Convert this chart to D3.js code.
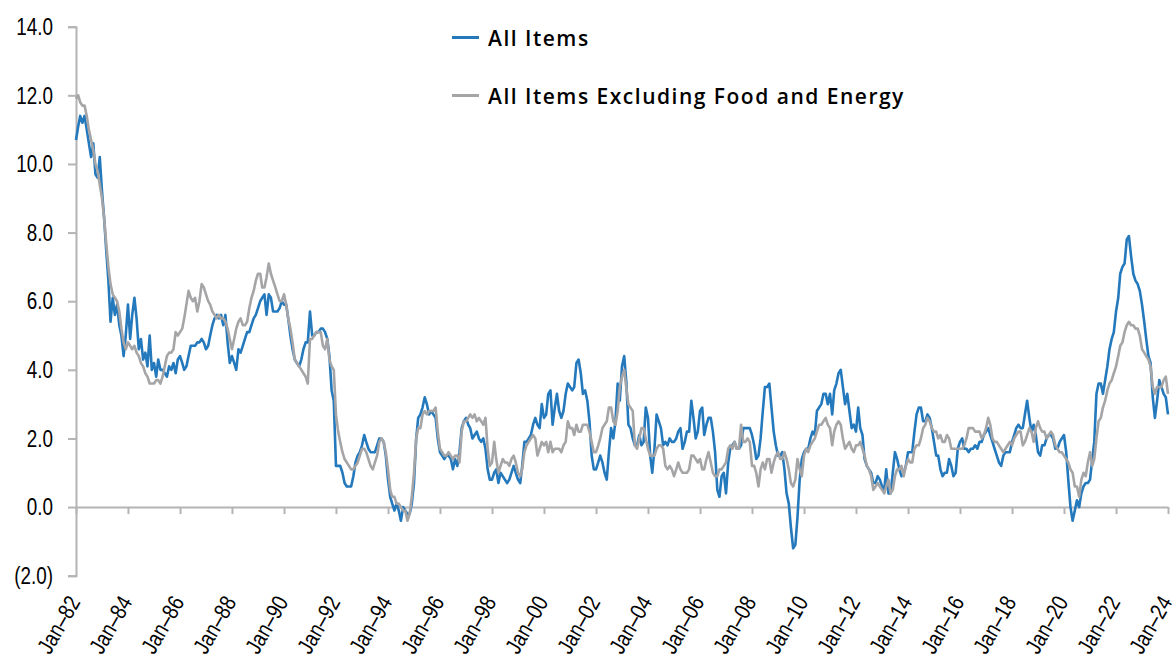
<!DOCTYPE html>
<html>
<head>
<meta charset="utf-8">
<script src="https://cdn.jsdelivr.net/npm/d3@7"></script>
<style>
  body { margin: 0; background: #fff; }
  svg text { font-family: "Liberation Sans", Arial, sans-serif; fill: #000; }
  .legend text { font-family: "Open Sans", "Noto Sans", sans-serif; font-weight: 600; letter-spacing: 1.5px; }
</style>
</head>
<body>
<div id="chart"></div>
<script>

// chart size and plot box
const width = 1174;
const height = 659;
const margin = {left: 76, right: 6, top: 26.7, bottom: 83.3};

// monthly year-over-year % change, one row per year, Jan-82 .. Jan-24
const startYear = 1982;

const allItems = [
  10.7, 11.1, 11.4, 11.2, 11.4, 11.0, 10.6, 10.2, 10.6, 9.7, 9.6, 10.2,
  9.2, 8.4, 7.5, 6.6, 5.4, 6.1, 5.6, 5.9, 5.3, 5.0, 4.4, 5.0,
  5.9, 4.9, 5.6, 6.1, 5.5, 4.6, 4.9, 4.3, 4.5, 4.1, 5.0, 4.0,
  4.2, 3.8, 4.3, 4.0, 4.0, 3.9, 3.8, 4.1, 4.0, 4.2, 3.9, 4.3,
  4.4, 4.2, 4.0, 4.1, 4.4, 4.7, 4.7, 4.7, 4.8, 4.8, 4.9, 4.8,
  4.6, 4.7, 5.0, 5.3, 5.5, 5.6, 5.5, 5.6, 5.3, 5.6, 4.8, 4.2,
  4.4, 4.2, 4.0, 4.6, 4.5, 4.7, 4.9, 5.1, 5.1, 5.3, 5.5, 5.6,
  5.8, 6.0, 6.1, 6.2, 5.6, 6.2, 6.1, 5.7, 5.7, 5.7, 5.8, 6.0,
  5.9, 5.9, 5.5, 5.0, 4.6, 4.3, 4.2, 4.1, 4.3, 4.6, 4.8, 4.8,
  5.7, 5.0, 5.0, 5.1, 5.1, 5.2, 5.2, 5.1, 4.9, 4.4, 3.4, 3.1,
  1.2, 1.2, 1.2, 1.0, 0.7, 0.6, 0.6, 0.6, 0.9, 1.3, 1.5, 1.6,
  1.8, 2.1, 1.9, 1.7, 1.6, 1.6, 1.6, 1.8, 2.0, 2.0, 1.9, 1.5,
  0.8, 0.3, 0.1, -0.1, 0.1, -0.1, -0.4, 0.0, -0.1, -0.2, -0.2, 0.1,
  0.7, 2.0, 2.6, 2.7, 2.9, 3.2, 3.0, 2.7, 2.8, 2.7, 2.6, 2.0,
  1.6, 1.5, 1.4, 1.5, 1.5, 1.4, 1.1, 1.4, 1.2, 1.6, 2.3, 2.5,
  2.6, 2.4, 2.3, 2.0, 2.1, 2.2, 2.0, 1.9, 2.0, 1.7, 1.1, 0.8,
  0.8, 1.0, 1.1, 0.7, 1.0, 0.9, 0.8, 0.7, 0.8, 1.0, 1.2, 1.0,
  0.8, 0.7, 1.2, 1.9, 1.9, 2.0, 2.1, 2.4, 2.6, 2.4, 2.3, 3.0,
  2.6, 2.7, 3.3, 3.4, 2.4, 2.9, 3.3, 2.8, 2.6, 2.8, 3.3, 3.6,
  3.5, 3.4, 3.5, 4.2, 4.3, 3.9, 3.3, 3.4, 3.1, 2.5, 1.5, 1.1,
  1.1, 1.3, 1.5, 1.3, 1.0, 0.8, 1.6, 2.3, 2.0, 2.5, 3.6, 3.1,
  4.1, 4.4, 3.7, 2.4, 2.3, 2.0, 1.8, 1.8, 2.1, 1.8, 1.9, 2.9,
  2.6, 1.5, 1.0, 1.7, 2.7, 2.5, 2.3, 1.8, 1.9, 1.8, 2.0, 1.9,
  1.9, 2.0, 2.2, 2.3, 1.7, 1.9, 2.2, 2.2, 3.1, 2.6, 2.0, 2.2,
  2.8, 2.9, 2.1, 2.4, 2.6, 2.6, 2.2, 1.6, 0.5, 0.3, 0.9, 1.0,
  0.4, 1.3, 1.7, 1.8, 1.9, 1.7, 1.7, 1.8, 2.3, 2.3, 2.3, 2.3,
  2.1, 1.8, 1.4, 1.5, 2.0, 2.8, 3.5, 3.5, 3.6, 2.9, 2.2, 1.8,
  1.5, 1.5, 1.6, 1.1, 0.4, 0.1, -0.6, -1.2, -1.1, -0.3, 0.8, 1.4,
  1.6, 1.7, 1.7, 2.0, 2.2, 2.1, 2.8, 2.9, 3.0, 3.3, 3.3, 3.0,
  3.3, 2.7, 3.4, 3.6, 3.9, 4.0, 3.5, 3.0, 3.3, 2.8, 2.3, 2.4,
  2.2, 2.9, 2.3, 2.1, 1.4, 1.2, 1.1, 1.0, 0.7, 0.7, 0.9, 0.8,
  0.6, 0.5, 1.1, 0.4, 0.4, 1.0, 1.6, 1.4, 1.1, 0.9, 1.0, 1.2,
  1.6, 1.6, 1.6, 2.2, 2.7, 2.9, 2.9, 2.5, 2.5, 2.7, 2.6, 2.3,
  1.9, 1.5, 1.5, 1.1, 0.9, 1.0, 1.0, 1.4, 1.2, 0.9, 1.0, 1.7,
  1.9, 2.0, 1.7, 1.7, 1.6, 1.7, 1.7, 1.8, 1.7, 1.9, 1.9, 2.1,
  2.2, 2.3, 2.1, 1.9, 1.7, 1.5, 1.3, 1.2, 1.5, 1.6, 1.6, 1.6,
  1.9, 2.1, 2.3, 2.4, 2.3, 2.3, 2.7, 3.1, 2.6, 2.2, 2.4, 2.1,
  1.6, 1.5, 1.8, 1.8, 2.0, 2.1, 2.1, 2.0, 1.7, 1.7, 1.9, 2.0,
  2.1, 1.6, 0.8, 0.0, -0.4, -0.1, 0.2, 0.0, 0.4, 0.6, 0.7, 0.7,
  0.8, 1.4, 1.9, 3.3, 3.6, 3.6, 3.3, 3.7, 4.1, 4.6, 4.9, 5.1,
  5.7, 6.1, 6.8, 7.0, 7.1, 7.8, 7.9, 7.3, 6.8, 6.6, 6.5, 6.3,
  5.9, 5.4, 4.9, 4.4, 4.2, 3.2, 2.6, 3.1, 3.7, 3.5, 3.3, 3.2,
  2.7
];

const coreItems = [
  11.9, 12.0, 11.8, 11.7, 11.7, 11.4, 11.0, 10.7, 10.4, 10.0, 9.8, 9.4,
  9.0, 8.4, 7.7, 7.0, 6.5, 6.2, 6.1, 6.0, 5.7, 5.2, 4.8, 4.6,
  4.8, 4.7, 4.6, 4.7, 4.5, 4.4, 4.2, 4.1, 3.9, 3.8, 3.6, 3.6,
  3.6, 3.7, 3.7, 3.6, 3.8, 4.1, 4.4, 4.5, 4.5, 4.6, 5.1, 5.0,
  5.1, 5.2, 5.5, 5.9, 6.3, 6.1, 6.0, 6.1, 5.7, 6.0, 6.5, 6.4,
  6.2, 6.0, 5.9, 5.7, 5.6, 5.5, 5.6, 5.5, 5.5, 5.4, 5.2, 4.9,
  4.6, 4.9, 5.2, 5.4, 5.5, 5.3, 5.3, 5.4, 5.8, 6.1, 6.3, 6.6,
  6.8, 6.8, 6.4, 6.4, 6.7, 7.1, 6.8, 6.6, 6.4, 6.2, 6.0, 6.0,
  6.2, 5.9, 5.5, 5.2, 4.8, 4.3, 4.2, 4.1, 4.0, 3.9, 3.8, 3.6,
  4.9, 4.9, 5.0, 5.1, 5.1, 5.1, 4.7, 4.6, 4.9, 4.3, 4.1, 4.0,
  2.7, 2.2, 1.9, 1.6, 1.4, 1.3, 1.2, 1.1, 1.1, 1.2, 1.3, 1.5,
  1.7, 1.7, 1.6, 1.4, 1.2, 1.1, 1.3, 1.5, 1.9, 2.0, 1.9, 1.6,
  1.1, 0.5, 0.3, 0.3, 0.1, 0.1, 0.0, -0.1, -0.1, -0.4, -0.2, 0.3,
  1.0, 2.0, 2.3, 2.3, 2.7, 2.8, 2.7, 2.8, 2.8, 2.8, 2.9, 2.2,
  1.7, 1.6, 1.5, 1.5, 1.6, 1.5, 1.4, 1.5, 1.5, 1.3, 2.2, 2.5,
  2.5, 2.6, 2.7, 2.6, 2.7, 2.5, 2.6, 2.5, 2.4, 2.6, 1.7, 1.2,
  1.3, 1.9, 1.4, 1.0, 1.2, 1.4, 1.3, 1.3, 1.2, 1.4, 1.5, 1.3,
  1.0, 0.9, 1.1, 1.6, 1.8, 1.9, 2.0, 2.1, 2.0, 1.5, 1.7, 1.9,
  1.8, 1.9, 1.6, 1.9, 1.6, 1.7, 1.7, 1.7, 1.6, 1.8, 1.9, 2.5,
  2.3, 2.3, 2.1, 2.4, 2.2, 2.2, 2.4, 2.4, 2.4, 2.2, 1.9, 1.6,
  1.6, 1.8, 2.0, 2.3, 2.4, 2.5, 2.9, 2.9, 2.5, 2.4, 2.8, 3.5,
  3.8, 4.0, 3.5, 3.0, 2.9, 2.8, 1.8, 1.7, 2.0, 2.3, 2.3, 2.0,
  1.7, 1.5, 1.5, 1.5, 1.7, 1.8, 1.8, 1.7, 1.2, 1.1, 1.2, 1.1,
  0.9, 1.1, 1.3, 1.1, 1.0, 1.0, 1.0, 1.1, 1.5, 1.5, 1.4, 1.3,
  1.4, 1.1, 1.1, 1.4, 1.6, 1.3, 1.0, 0.9, 0.9, 1.1, 1.1, 1.2,
  1.3, 1.7, 1.8, 1.7, 1.9, 1.7, 1.7, 2.4, 1.9, 1.9, 2.0, 1.9,
  1.2, 1.2, 1.0, 0.6, 1.1, 1.3, 1.1, 1.4, 1.4, 1.0, 1.3, 1.5,
  1.6, 1.4, 1.4, 1.6, 1.4, 1.1, 0.7, 0.6, 0.8, 1.4, 1.1, 0.9,
  1.5, 1.7, 1.6, 1.8, 1.9, 2.0, 2.2, 2.4, 2.4, 2.5, 2.6, 2.4,
  2.3, 1.8, 2.2, 2.4, 2.5, 2.4, 2.0, 1.7, 1.8, 1.9, 1.7, 1.6,
  1.8, 1.8, 1.9, 1.7, 1.5, 1.2, 1.1, 0.9, 0.5, 0.6, 0.7, 0.6,
  0.5, 0.4, 0.6, 0.8, 0.4, 0.5, 0.9, 1.1, 1.1, 1.2, 0.9, 1.2,
  1.4, 1.3, 1.3, 1.7, 1.8, 1.8, 2.0, 2.3, 2.4, 2.6, 2.5, 2.3,
  2.2, 2.2, 2.0, 2.1, 1.9, 1.9, 2.1, 2.0, 1.7, 1.7, 1.7, 1.7,
  1.7, 1.7, 1.8, 2.0, 2.3, 2.3, 2.3, 2.2, 2.2, 2.2, 2.0, 2.1,
  2.3, 2.6, 2.4, 2.0, 1.9, 1.9, 1.8, 1.7, 1.6, 1.7, 1.8, 1.9,
  1.8, 2.0, 2.1, 2.2, 2.2, 1.8, 1.9, 2.1, 2.3, 2.2, 1.9, 2.3,
  2.5, 2.3, 2.2, 2.2, 2.0, 2.1, 2.2, 2.1, 1.8, 1.7, 1.6, 1.6,
  1.5, 1.4, 1.3, 1.1, 1.0, 0.6, 0.6, 0.3, 0.8, 1.0, 0.9, 1.3,
  1.6, 1.2, 1.4, 2.0, 2.5, 2.6, 2.9, 3.1, 3.4, 3.6, 3.7, 3.9,
  4.1, 4.4, 4.7, 4.8, 5.1, 5.3, 5.4, 5.3, 5.3, 5.2, 5.2, 5.0,
  4.6, 4.5, 4.4, 4.3, 4.1, 3.5, 3.3, 3.5, 3.5, 3.5, 3.7, 3.8,
  3.3
];

const seriesNames = ["All Items", "All Items Excluding Food and Energy"];
const seriesColors = ["#2479bd", "#a5a5a7"];

// axis ticks
const yTicks = [-2, 0, 2, 4, 6, 8, 10, 12, 14];
const xTickYears = [1982, 1984, 1986, 1988, 1990, 1992, 1994, 1996, 1998, 2000, 2002,
                    2004, 2006, 2008, 2010, 2012, 2014, 2016, 2018, 2020, 2022, 2024];

const axisColor = "#b4b4b6";
const labelSize = "23px";
const narrow = 0.82;   // squeeze Arial-like glyphs to a narrow face

const svg = d3.select("#chart")
  .append("svg")
  .attr("width", width)
  .attr("height", height);

// one date per monthly value
const monthOf = i => new Date(startYear, i, 1);

// scales
const xScale = d3.scaleTime()
  .domain([new Date(1982, 0, 1), new Date(2024, 0, 1)])
  .range([margin.left, 1168]);

const yScale = d3.scaleLinear()
  .domain([-2, 14])
  .range([height - margin.bottom, margin.top]);

// y axis: line + ticks from d3, labels drawn narrow by hand
const fmtY = v => v < 0 ? "(" + Math.abs(v).toFixed(1) + ")" : v.toFixed(1);

const yAxis = svg.append("g")
  .attr("transform", `translate(${margin.left},0)`)
  .call(d3.axisLeft(yScale)
          .tickValues(yTicks)
          .tickSize(8)
          .tickFormat(""));

yAxis.select(".domain").attr("stroke", axisColor).attr("stroke-width", 2);
yAxis.selectAll(".tick line").attr("stroke", axisColor).attr("stroke-width", 2);

svg.append("g")
  .selectAll("text")
  .data(yTicks)
  .enter()
  .append("text")
    .attr("transform", d => `translate(53,${yScale(d)}) scale(${narrow},1)`)
    .attr("text-anchor", "end")
    .attr("dy", "0.36em")
    .attr("font-size", labelSize)
    .text(fmtY);

// x axis line sits at zero
const xAxis = svg.append("g")
  .attr("transform", `translate(0,${yScale(0)})`)
  .call(d3.axisBottom(xScale)
          .tickValues(xTickYears.map(y => new Date(y, 0, 1)))
          .tickSize(7)
          .tickSizeOuter(0)
          .tickFormat(""));

xAxis.select(".domain").attr("stroke", axisColor).attr("stroke-width", 2);
xAxis.selectAll(".tick line").attr("stroke", axisColor).attr("stroke-width", 2);

// rotated category labels at the bottom of the plot
svg.append("g")
  .selectAll("text")
  .data(xTickYears)
  .enter()
  .append("text")
    .attr("transform", d => `translate(${xScale(new Date(d, 0, 1)) + 5},602) rotate(-60) scale(${narrow},1)`)
    .attr("text-anchor", "end")
    .attr("font-size", labelSize)
    .text(d => "Jan\u2013" + String(d).slice(2));

// lines
const line = d3.line()
  .x((d, i) => xScale(monthOf(i)))
  .y(d => yScale(d));

[allItems, coreItems].forEach((series, k) => {
  svg.append("path")
    .datum(series)
    .attr("fill", "none")
    .attr("stroke", seriesColors[k])
    .attr("stroke-width", 2.6)
    .attr("stroke-linejoin", "round")
    .attr("d", line);
});

// legend
const legend = svg.append("g").attr("class", "legend");
const legendY = [37.5, 95.5];

seriesNames.forEach((name, k) => {
  legend.append("line")
    .attr("x1", 452).attr("x2", 479)
    .attr("y1", legendY[k]).attr("y2", legendY[k])
    .attr("stroke", seriesColors[k])
    .attr("stroke-width", 3);
  legend.append("text")
    .attr("x", 488)
    .attr("y", legendY[k] + 8.5)
    .attr("font-size", "21px")
    .text(name);
});

</script>
</body>
</html>
